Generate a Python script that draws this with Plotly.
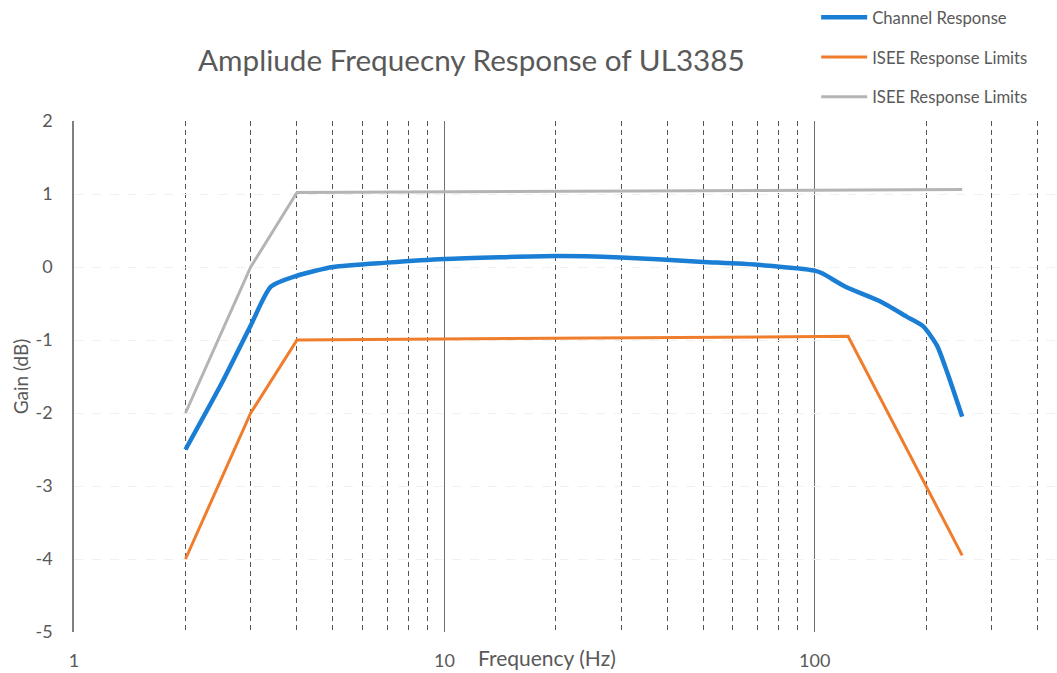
import plotly.graph_objects as go

# Data
chan_freq = [2, 2.5, 3, 3.4, 4, 5, 7, 10, 20, 30, 50, 70, 100, 105, 121, 150, 177, 196, 214, 228, 250]
chan_gain = [-2.5, -1.6, -0.8, -0.27, -0.12, 0.0, 0.06, 0.11, 0.15, 0.13, 0.07, 0.03, -0.05, -0.09, -0.27, -0.47, -0.68, -0.81, -1.08, -1.45, -2.05]

low_freq = [2, 3, 4, 123, 250]
low_gain = [-4.0, -2.0, -1.0, -0.95, -3.95]

high_freq = [2, 3, 4, 250]
high_gain = [-2.0, 0.0, 1.02, 1.06]

major_ticks = [1, 10, 100]
minor_ticks = [2, 3, 4, 5, 6, 7, 8, 9, 20, 30, 40, 50, 60, 70, 80, 90, 200, 300, 400, 500, 600, 700, 800, 900]
y_ticks = [2, 1, 0, -1, -2, -3, -4, -5]

FONT = "Lato"
TXT = "#595959"

fig = go.Figure()
fig.add_trace(go.Scatter(x=chan_freq, y=chan_gain, mode="lines", name="Channel Response",
                         line=dict(color="#1a7fd4", width=4.5, shape="spline", smoothing=0.6),
                         legendgroup="a"))
fig.add_trace(go.Scatter(x=low_freq, y=low_gain, mode="lines", name="ISEE Response Limits",
                         line=dict(color="#ef7d2c", width=3), legendgroup="b"))
fig.add_trace(go.Scatter(x=high_freq, y=high_gain, mode="lines", name="ISEE Response Limits",
                         line=dict(color="#b4b4b4", width=3), legendgroup="c"))

fig.update_layout(
    width=1057, height=673,
    margin=dict(l=74, r=0, t=115, b=41),
    paper_bgcolor="white", plot_bgcolor="white",
    font=dict(family=FONT, color=TXT),
    title=dict(text="Ampliude Frequecny Response of UL3385", x=0.446, xanchor="center",
               y=0.91, yanchor="middle", font=dict(size=29.7, color=TXT, family=FONT)),
    legend=dict(x=0.755, y=1.237, xanchor="left", yanchor="top", traceorder="grouped",
                tracegroupgap=15, itemwidth=46, font=dict(size=16.7, color=TXT, family=FONT),
                bgcolor="rgba(0,0,0,0)"),
    showlegend=True,
)

fig.update_xaxes(
    type="log", range=[0, 2.654], automargin=False,
    tickmode="array", tickvals=major_ticks, ticktext=[str(v) for v in major_ticks],
    showgrid=True, gridcolor="#6f6f6f", gridwidth=1,
    ticks="", ticklabelstandoff=16, tickfont=dict(size=18, color=TXT),
    showline=False, zeroline=False,
    minor=dict(tickmode="array", tickvals=minor_ticks, showgrid=True,
               gridcolor="#555555", griddash="5px,4px", gridwidth=1, ticks=""),
)
fig.update_yaxes(
    range=[-5, 2], automargin=False, tickmode="array", tickvals=y_ticks,
    ticktext=[str(v) for v in y_ticks],
    showgrid=True, gridcolor="#f0f0f0", griddash="dash", gridwidth=1,
    showline=True, linecolor="#7f7f7f", linewidth=1.5,
    zeroline=False, ticks="", ticklabelstandoff=16,
    tickfont=dict(size=18, color=TXT),
    title=dict(text="Gain (dB)", font=dict(size=19, color=TXT), standoff=2),
)

fig.add_annotation(text="Frequency (Hz)", xref="paper", yref="paper",
                   x=(547 - 74) / 983, y=-(658 - 632) / 517, xanchor="center", yanchor="middle",
                   showarrow=False, font=dict(size=21, color=TXT, family=FONT))

fig.write_html("out.html", config={"displayModeBar": False},
               post_script="document.body.style.margin='0';")
